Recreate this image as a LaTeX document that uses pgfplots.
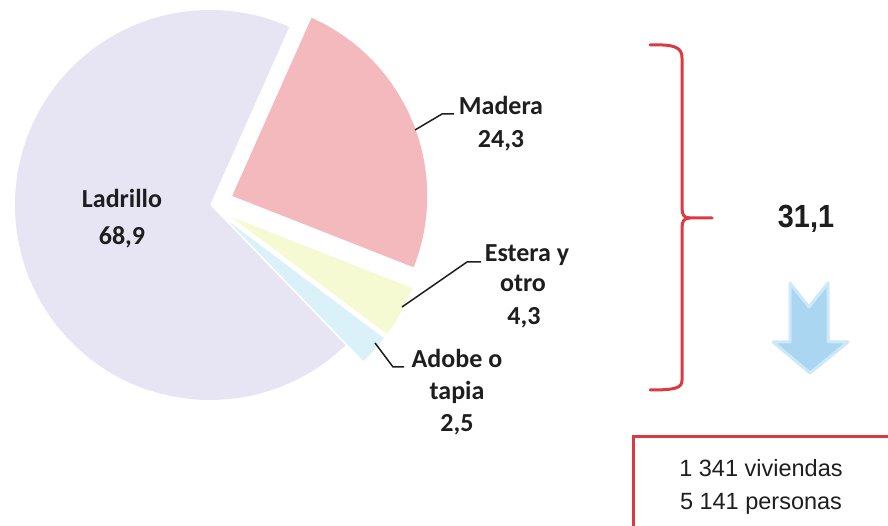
\documentclass[border=0pt]{standalone}
\usepackage{fontspec}
\setmainfont{Carlito}
\newfontfamily\arialfont{Liberation Sans}
\newfontfamily\narrowfont[FakeStretch=0.9]{Liberation Sans}
\usepackage{pgfplots}
\usepackage{pgfplotstable}
\pgfplotsset{compat=1.18}

\definecolor{slice0}{HTML}{F3B9BC}
\definecolor{slice1}{HTML}{F6FAD2}
\definecolor{slice2}{HTML}{DAF1FA}
\definecolor{slice3}{HTML}{E7E5F4}
\definecolor{braceRed}{HTML}{DC3A40}
\definecolor{arrowBlue}{HTML}{AAD6F2}
\definecolor{arrowGlow}{HTML}{CDE8F8}
\definecolor{ink}{HTML}{1E1E1E}

% shares in percent, explode offset in px; clockwise from 66 deg
\pgfplotstableread{
share explode
24.3 24
4.3  24
2.5  24
68.9 0
}\piedata

\begin{document}
\begin{tikzpicture}
\useasboundingbox (0,0) rectangle (888pt,526pt);
% slice angles from the shares
\gdef\pCum{0}%
\foreach \i in {0,...,3}{%
  \pgfplotstablegetelem{\i}{share}\of\piedata
  \let\pVal\pgfplotsretval
  \pgfplotstablegetelem{\i}{explode}\of\piedata
  \let\pExp\pgfplotsretval
  \pgfmathsetmacro\pA{66-3.6*\pCum}%
  \pgfmathsetmacro\pB{66-3.6*(\pCum+\pVal)}%
  \pgfmathsetmacro\pM{(\pA+\pB)/2}%
  \pgfmathsetmacro\pVx{210+\pExp*cos(\pM)}%
  \pgfmathsetmacro\pVy{321+\pExp*sin(\pM)}%
  \pgfmathsetmacro\pAx{\pVx+195*cos(\pA)}%
  \pgfmathsetmacro\pAy{\pVy+195*sin(\pA)}%
  \expandafter\xdef\csname pa\i\endcsname{\pA}%
  \expandafter\xdef\csname pb\i\endcsname{\pB}%
  \expandafter\xdef\csname vx\i\endcsname{\pVx}%
  \expandafter\xdef\csname vy\i\endcsname{\pVy}%
  \expandafter\xdef\csname ax\i\endcsname{\pAx}%
  \expandafter\xdef\csname ay\i\endcsname{\pAy}%
  \pgfmathsetmacro\pNext{\pCum+\pVal}%
  \xdef\pCum{\pNext}%
}
\begin{axis}[
    x=1pt, y=1pt,
    xmin=0, xmax=888, ymin=0, ymax=526,
    scale only axis,
    hide axis,
    clip=false,
    anchor=origin, at={(0,0)},
]
\pgfplotsinvokeforeach{0,...,3}{%
  \fill[slice#1] (axis cs:\csname vx#1\endcsname,\csname vy#1\endcsname)
    -- (axis cs:\csname ax#1\endcsname,\csname ay#1\endcsname)
    arc[start angle=\csname pa#1\endcsname, end angle=\csname pb#1\endcsname, radius=195pt]
    -- cycle;
}

% leader lines
\draw[ink, line width=1.5pt] (axis cs:415,396) -- (axis cs:442,412) -- (axis cs:454,412);
\draw[ink, line width=1.5pt] (axis cs:402,219) -- (axis cs:467,264) -- (axis cs:481,264);
\draw[ink, line width=1.5pt] (axis cs:375,183) -- (axis cs:393,159) -- (axis cs:404,159);

% slice labels
\begin{scope}[every node/.style={ink, anchor=base, inner sep=0pt, font=\bfseries\fontsize{26}{30}\selectfont}]
\node at (axis cs:122,318) {Ladrillo};
\node at (axis cs:122,281) {68,9};
\node at (axis cs:501,411) {Madera};
\node at (axis cs:501,378) {24,3};
\node at (axis cs:527,264) {Estera y};
\node at (axis cs:523,234) {otro};
\node at (axis cs:524,201) {4,3};
\node at (axis cs:457,158) {Adobe o};
\node at (axis cs:457,126) {tapia};
\node at (axis cs:457,94) {2,5};
\end{scope}

% brace
\draw[braceRed, line width=3pt, line cap=round]
  (axis cs:650,481) .. controls (axis cs:676,482) and (axis cs:682,478) .. (axis cs:682,468)
  -- (axis cs:682,318) .. controls (axis cs:682,311) and (axis cs:684,308) .. (axis cs:690,308)
  -- (axis cs:712,308);
\draw[braceRed, line width=3pt, line cap=round]
  (axis cs:690,308) .. controls (axis cs:684,308) and (axis cs:682,305) .. (axis cs:682,298)
  -- (axis cs:682,146) .. controls (axis cs:682,138) and (axis cs:676,136) .. (axis cs:650,136);

\node[ink, anchor=base, inner sep=0pt, font=\narrowfont\bfseries\fontsize{32}{36}\selectfont]
  at (axis cs:806,298) {31,1};

% arrow
\filldraw[fill=arrowBlue, draw=arrowGlow, line width=3pt, line join=round]
  (axis cs:790,243) -- (axis cs:809,219) -- (axis cs:828,243) -- (axis cs:828,184)
  -- (axis cs:848,184) -- (axis cs:810,153) -- (axis cs:773,184) -- (axis cs:790,184) -- cycle;

% box
\draw[braceRed, line width=3pt] (axis cs:633,-5) -- (axis cs:633,89) -- (axis cs:895,89);
\begin{scope}[every node/.style={ink, anchor=base, inner sep=0pt, font=\arialfont\fontsize{23.5}{28}\selectfont}]
\node at (axis cs:761,49) {1 341 viviendas};
\node at (axis cs:761,16) {5 141 personas};
\end{scope}
\end{axis}
\end{tikzpicture}
\end{document}
